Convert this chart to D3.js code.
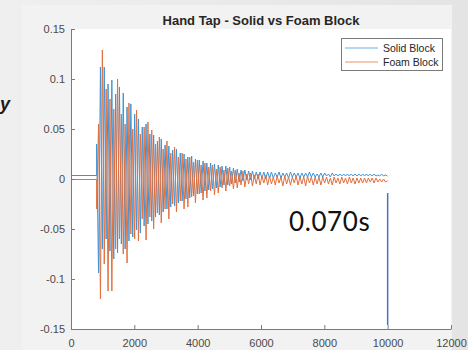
<!DOCTYPE html>
<html>
<head>
<meta charset="utf-8">
<script src="https://cdn.jsdelivr.net/npm/d3@7"></script>
<style>
  html, body { margin: 0; padding: 0; background: #e9e9e9; }
  svg { display: block; }
</style>
</head>
<body>
<svg id="chart" width="468" height="350"></svg>
<script>
// Hand tap ring-down recorded on two blocks (sample index on x, amplitude on y)
const chartTitle = "Hand Tap - Solid vs Foam Block";
const seriesNames = ["Solid Block", "Foam Block"];
const xTicks = [0, 2000, 4000, 6000, 8000, 10000, 12000];
const yTicks = [-0.15, -0.1, -0.05, 0, 0.05, 0.1, 0.15];
const yTickLabels = ["-0.15", "-0.1", "-0.05", "0", "0.05", "0.1", "0.15"];

// quiet level before the tap, tap onset and end of the recording (samples)
const solidBaseline = 0.0035;
const foamBaseline = -0.0005;
const tapOnset = 810;
const recordEnd = 9990;

// successive extremes of the ringing signal, evenly spaced from tapOnset to recordEnd
const solidExtremes = [
  0.035, -0.094, 0.112, -0.070, 0.112, -0.060, 0.095, -0.072, 0.099, -0.080,
  0.085, -0.074, 0.092, -0.065, 0.086, -0.070, 0.072, -0.062, 0.075, -0.058,
  0.065, -0.051, 0.060, -0.054, 0.052, -0.047, 0.055, -0.045, 0.045, -0.042,
  0.044, -0.038, 0.038, -0.036, 0.040, -0.033, 0.034, -0.030, 0.033, -0.028,
  0.029, -0.027, 0.030, -0.024, 0.026, -0.022, 0.025, -0.020, 0.022, -0.019,
  0.023, -0.017, 0.020, -0.015, 0.019, -0.014, 0.018, -0.012, 0.016, -0.011,
  0.016, -0.010, 0.015, -0.009, 0.014, -0.008, 0.013, -0.006, 0.013, -0.006,
  0.012, -0.005, 0.011, -0.004, 0.010, -0.003, 0.009, -0.002, 0.009, -0.001,
  0.008, -0.001, 0.008, 0.000, 0.007, 0.000, 0.007, 0.001, 0.007, 0.000,
  0.007, 0.001, 0.007, 0.001, 0.006, 0.002, 0.007, 0.001, 0.006, 0.002,
  0.006, 0.001, 0.007, 0.002, 0.006, 0.002, 0.006, 0.001, 0.006, 0.002,
  0.006, 0.002, 0.007, 0.002, 0.006, 0.002, 0.005, 0.002, 0.006, 0.002,
  0.006, 0.003, 0.005, 0.002, 0.006, 0.003, 0.005, 0.003, 0.005, 0.003,
  0.005, 0.003, 0.005, 0.003, 0.005, 0.003, 0.005, 0.003, 0.005, 0.003,
  0.005, 0.003, 0.005, 0.003, 0.005, 0.003, 0.005, 0.003, 0.004, 0.003,
  0.005, 0.003, 0.004, 0.003
];
const foamExtremes = [
  -0.030, 0.055, -0.120, 0.129, -0.085, 0.090, -0.112, 0.080, -0.112, 0.070,
  -0.070, 0.100, -0.060, 0.065, -0.075, 0.055, -0.084, 0.076, -0.055, 0.050,
  -0.060, 0.069, -0.062, 0.045, -0.040, 0.052, -0.061, 0.057, -0.038, 0.049,
  -0.050, 0.035, -0.034, 0.042, -0.044, 0.030, -0.030, 0.038, -0.040, 0.026,
  -0.025, 0.032, -0.033, 0.022, -0.022, 0.026, -0.030, 0.020, -0.028, 0.022,
  -0.018, 0.017, -0.024, 0.019, -0.015, 0.014, -0.021, 0.016, -0.019, 0.012,
  -0.012, 0.014, -0.016, 0.010, -0.014, 0.012, -0.009, 0.009, -0.012, 0.011,
  -0.007, 0.008, -0.010, 0.009, -0.009, 0.006, -0.006, 0.008, -0.008, 0.005,
  -0.005, 0.006, -0.007, 0.004, -0.005, 0.005, -0.006, 0.003, -0.004, 0.004,
  -0.006,
  0.003, -0.005, 0.002, -0.006, 0.003, -0.004, 0.002, -0.007, 0.003, -0.005,
  0.002, -0.006, 0.002, -0.004, 0.003, -0.006, 0.002, -0.005, 0.002, -0.007,
  0.003, -0.004, 0.002, -0.006, 0.002, -0.005, 0.002, -0.006, 0.002, -0.004,
  0.002, -0.005, 0.001, -0.006, 0.002, -0.004, 0.001, -0.005, 0.002, -0.004,
  0.001, -0.005, 0.002, -0.004, 0.001, -0.005, 0.001, -0.004, 0.001, -0.004,
  0.001, -0.004, 0.001, -0.003, 0.001, -0.004, 0.001, -0.003, 0.000, -0.003,
  0.000, -0.003, -0.002
];

// duration marker drawn at the end of the record
const markerLabel = "0.070s";
const markerSample = 10000;
const markerRange = [-0.014, -0.146];

const colors = ["#3f93d6", "#e2703e"];

const svg = d3.select("#chart");
const W = 468, H = 350;
const plot = { left: 71, right: 451, top: 29, bottom: 329 };

// backdrop, figure panel, axes area
const grad = svg.append("defs").append("linearGradient")
  .attr("id", "bg").attr("x1", "0").attr("x2", "1").attr("y1", "0").attr("y2", "0");
grad.append("stop").attr("offset", "0").attr("stop-color", "#efefef");
grad.append("stop").attr("offset", "1").attr("stop-color", "#e4e4e4");
svg.append("rect").attr("width", W).attr("height", H).attr("fill", "url(#bg)");
svg.append("rect").attr("x", 22).attr("y", 5).attr("width", 430).attr("height", 345).attr("fill", "#f2f2f2");
svg.append("rect")
  .attr("x", plot.left).attr("y", plot.top)
  .attr("width", plot.right - plot.left).attr("height", plot.bottom - plot.top)
  .attr("fill", "#ffffff");

// slide text fragment at the left edge
svg.append("text").attr("x", 0).attr("y", 110)
  .attr("font-family", "Liberation Sans, Arial, sans-serif")
  .attr("font-size", 18).attr("font-style", "italic").attr("font-weight", "bold")
  .attr("fill", "#1a1a1a").text("y");

const x = d3.scaleLinear().domain([0, 12000]).range([plot.left, plot.right]);
const y = d3.scaleLinear().domain([-0.15, 0.15]).range([plot.bottom, plot.top]);

function buildSeries(base, extremes) {
  const pts = [[0, base], [tapOnset, base]];
  const step = (recordEnd - tapOnset) / (extremes.length - 1);
  extremes.forEach((v, i) => pts.push([tapOnset + i * step, v]));
  pts.push([markerSample, extremes[extremes.length - 1]]);
  return pts;
}
const series = [buildSeries(solidBaseline, solidExtremes), buildSeries(foamBaseline, foamExtremes)];

const line = d3.line().x(d => x(d[0])).y(d => y(d[1]));
const plotG = svg.append("g");
series.forEach((pts, k) => {
  plotG.append("path").datum(pts)
    .attr("fill", "none").attr("stroke", colors[k])
    .attr("stroke-width", 1).attr("stroke-linejoin", "miter")
    .attr("d", line);
});

// axes (ticks point inward)
const axisFont = "Liberation Sans, Arial, Helvetica, sans-serif";
const xAxis = svg.append("g").attr("transform", `translate(0,${plot.bottom})`)
  .call(d3.axisBottom(x).tickValues(xTicks).tickFormat(d3.format("d"))
    .tickSizeInner(-4).tickSizeOuter(0).tickPadding(10));
const yAxis = svg.append("g").attr("transform", `translate(${plot.left},0)`)
  .call(d3.axisLeft(y).tickValues(yTicks).tickFormat((d, i) => yTickLabels[i])
    .tickSizeInner(-4).tickSizeOuter(0).tickPadding(6));
[xAxis, yAxis].forEach(g => {
  g.select(".domain").attr("stroke", "#7a7a7a");
  g.selectAll(".tick line").attr("stroke", "#7a7a7a");
  g.selectAll(".tick text").attr("fill", "#4a4a4a")
    .attr("font-family", axisFont).attr("font-size", 11);
});

// title
svg.append("text").attr("x", (plot.left + plot.right) / 2).attr("y", 25)
  .attr("text-anchor", "middle").attr("font-family", axisFont)
  .attr("font-size", 13).attr("font-weight", "bold").attr("fill", "#262626")
  .text(chartTitle);

// legend
const lg = svg.append("g");
lg.append("rect").attr("x", 341.5).attr("y", 38.5).attr("width", 101).attr("height", 32)
  .attr("fill", "#ffffff").attr("stroke", "#7a7a7a").attr("stroke-width", 1);
seriesNames.forEach((name, k) => {
  const ly = 48 + k * 14;
  lg.append("line").attr("x1", 345).attr("x2", 378).attr("y1", ly).attr("y2", ly)
    .attr("stroke", colors[k]).attr("stroke-width", 1).attr("opacity", 0.75);
  lg.append("text").attr("x", 383).attr("y", ly + 4)
    .attr("font-family", axisFont).attr("font-size", 10.5).attr("fill", "#262626")
    .text(name);
});

// duration marker and label
svg.append("line")
  .attr("x1", x(markerSample)).attr("x2", x(markerSample))
  .attr("y1", y(markerRange[0])).attr("y2", y(markerRange[1]))
  .attr("stroke", "#4a72c4").attr("stroke-width", 1.5);
svg.append("text").attr("x", 289).attr("y", 231)
  .attr("font-family", "Lato, 'Open Sans', sans-serif").attr("font-size", 26)
  .attr("letter-spacing", 0.6)
  .attr("fill", "#111111").text(markerLabel);
</script>
</body>
</html>
